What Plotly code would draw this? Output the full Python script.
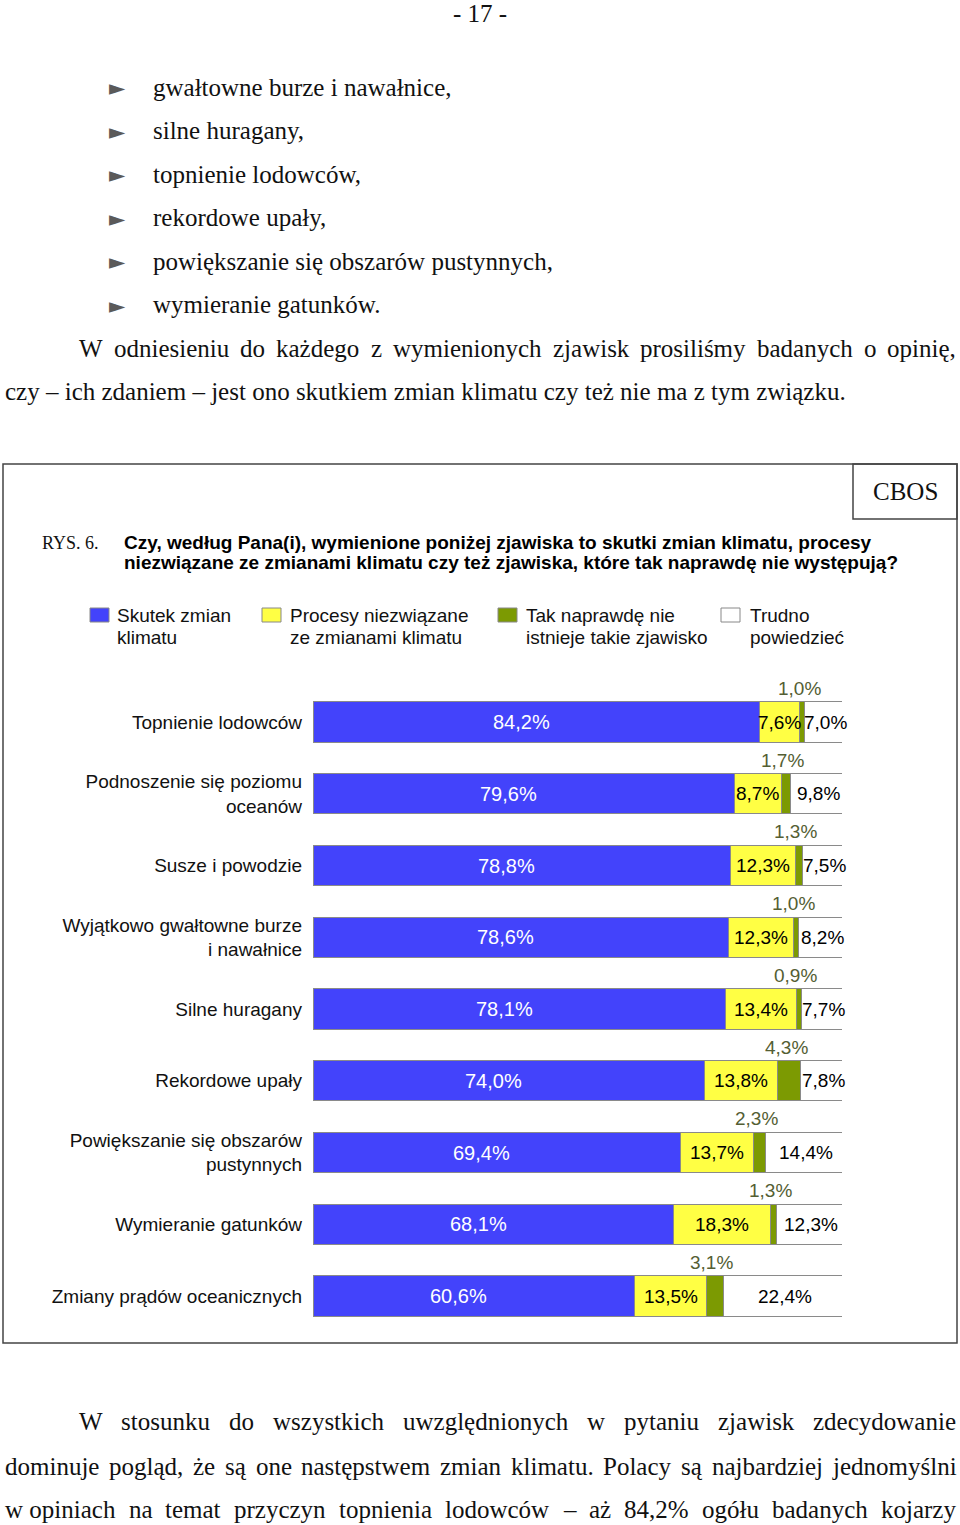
import plotly.graph_objects as go

# ---------------- data ----------------
categories = [
    "Topnienie lodowców",
    "Podnoszenie się poziomu<br>oceanów",
    "Susze i powodzie",
    "Wyjątkowo gwałtowne burze<br>i nawałnice",
    "Silne huragany",
    "Rekordowe upały",
    "Powiększanie się obszarów<br>pustynnych",
    "Wymieranie gatunków",
    "Zmiany prądów oceanicznych",
]
skutek = [84.2, 79.6, 78.8, 78.6, 78.1, 74.0, 69.4, 68.1, 60.6]
procesy = [7.6, 8.7, 12.3, 12.3, 13.4, 13.8, 13.7, 18.3, 13.5]
nie_istnieje = [1.0, 1.7, 1.3, 1.0, 0.9, 4.3, 2.3, 1.3, 3.1]
trudno = [7.0, 9.8, 7.5, 8.2, 7.7, 7.8, 14.4, 12.3, 22.4]

series_names = [
    "Skutek zmian klimatu",
    "Procesy niezwiązane ze zmianami klimatu",
    "Tak naprawdę nie istnieje takie zjawisko",
    "Trudno powiedzieć",
]
legend_lines = [
    ["Skutek zmian", "klimatu"],
    ["Procesy niezwiązane", "ze zmianami klimatu"],
    ["Tak naprawdę nie", "istnieje takie zjawisko"],
    ["Trudno", "powiedzieć"],
]
series_values = [skutek, procesy, nie_istnieje, trudno]
colors = ["#4343FB", "#FFFF44", "#7C9A02", "#FFFFFF"]

bullets = [
    "gwałtowne burze i nawałnice,",
    "silne huragany,",
    "topnienie lodowców,",
    "rekordowe upały,",
    "powiększanie się obszarów pustynnych,",
    "wymieranie gatunków.",
]
para_top = [
    "W odniesieniu do każdego z wymienionych zjawisk prosiliśmy badanych o opinię,",
    "czy – ich zdaniem – jest ono skutkiem zmian klimatu czy też nie ma z tym związku.",
]
para_bottom = [
    "W stosunku do wszystkich uwzględnionych w pytaniu zjawisk zdecydowanie",
    "dominuje pogląd, że są one następstwem zmian klimatu. Polacy są najbardziej jednomyślni",
    "w\u00a0opiniach na temat przyczyn topnienia lodowców – aż 84,2% ogółu badanych kojarzy",
]
question = [
    "Czy, według Pana(i), wymienione poniżej zjawiska to skutki zmian klimatu, procesy",
    "niezwiązane ze zmianami klimatu czy też zjawiska, które tak naprawdę nie występują?",
]

# ---------------- page geometry ----------------
W, H = 960, 1525
def X(px):
    return px / W
def Y(py):
    return 1 - py / H

SERIF = "Liberation Serif, Times New Roman, serif"
SANS = "Liberation Sans, Arial, sans-serif"

# Times metrics for justification
TW = dict(zip("abcdefghijklmnopqrstuvwxyz",
              [444, 500, 444, 500, 444, 333, 500, 500, 278, 278, 500, 278, 778,
               500, 500, 500, 500, 333, 389, 278, 500, 500, 722, 500, 500, 444]))
TW.update(dict(zip("ABCDEFGHIJKLMNOPQRSTUVWXYZ",
                   [722, 667, 667, 722, 611, 556, 722, 722, 333, 389, 722, 611, 889,
                    722, 722, 556, 722, 667, 556, 611, 722, 722, 944, 722, 722, 611])))
TW.update({" ": 250, "\u00a0": 250, ",": 250, ".": 250, "%": 833, "–": 500, "-": 333})
for d in "0123456789":
    TW[d] = 500
for a, b in zip("ąćęłńóśźż", "acelnoszz"):
    TW[a] = TW[b]

def text_w(s, size):
    return sum(TW.get(c, 500) for c in s) / 1000 * size

def justify(line, left, right, size):
    words = line.split(" ")
    widths = [text_w(w, size) for w in words]
    gap = (right - left - sum(widths)) / (len(words) - 1)
    out, x = [], left
    for w, wd in zip(words, widths):
        out.append((w, x))
        x += wd + gap
    return out

BODY = 25
annotations = []
shapes = []

def txt(text, x, y, size, family=SERIF, color="#111", xanchor="left", **kw):
    annotations.append(dict(
        text=text, x=X(x), y=Y(y), xref="paper", yref="paper",
        xanchor=xanchor, yanchor="middle", showarrow=False, borderpad=0,
        font=dict(size=size, family=family, color=color), **kw))

# page number
txt("- 17 -", 480, 13, BODY, xanchor="center")
# bullets
for i, b in enumerate(bullets):
    yy = 87 + i * 43.6
    txt("►", 117, yy + 1, 21, family="DejaVu Sans", color="#5a5a5a", xanchor="center")
    txt(b, 152, yy, BODY)
# top paragraph
for w, x in justify(para_top[0], 78, 955, BODY):
    txt(w, x, 348, BODY)
txt(para_top[1], 4, 392, BODY)
# bottom paragraph
for w, x in justify(para_bottom[0], 78, 955, BODY):
    txt(w, x, 1421, BODY)
for w, x in justify(para_bottom[1], 4, 955, BODY):
    txt(w, x, 1466, BODY)
for w, x in justify(para_bottom[2], 4, 955, BODY):
    txt(w, x, 1509, BODY)

# chart frame
shapes.append(dict(type="rect", xref="paper", yref="paper",
                   x0=X(3), x1=X(957), y0=Y(1343), y1=Y(464),
                   line=dict(color="#444", width=1.5)))
shapes.append(dict(type="rect", xref="paper", yref="paper",
                   x0=X(853), x1=X(957), y0=Y(519), y1=Y(464),
                   line=dict(color="#444", width=1.5)))
txt("CBOS", 905, 492, BODY, xanchor="center")
txt("RYS. 6.", 41, 543, 18)
txt("<b>" + question[0] + "</b>", 123, 542, 19, family=SANS, color="#000")
txt("<b>" + question[1] + "</b>", 123, 562, 19, family=SANS, color="#000")

# legend (manual)
leg_sq_x = [90, 262, 498, 721]
leg_tx_x = [116, 289, 525, 749]
for k in range(4):
    shapes.append(dict(type="rect", xref="paper", yref="paper",
                       x0=X(leg_sq_x[k]), x1=X(leg_sq_x[k] + 19),
                       y0=Y(622), y1=Y(608),
                       fillcolor=colors[k], line=dict(color="#888", width=1)))
    txt(legend_lines[k][0], leg_tx_x[k], 615, 19, family=SANS, color="#111")
    txt(legend_lines[k][1], leg_tx_x[k], 637, 19, family=SANS, color="#111")

# ---------------- bars ----------------
n = len(categories)
ypos = list(range(n))
fig = go.Figure()
for k in range(4):
    fig.add_trace(go.Bar(
        y=ypos, x=series_values[k], orientation="h", name=series_names[k],
        marker=dict(color=colors[k], line=dict(color="#8a8a8a", width=1)),
        width=0.56, hoverinfo="x+name", showlegend=False,
    ))

def fmt(v):
    return f"{v:.1f}".replace(".", ",") + "%"

for i in range(n):
    vals = [s[i] for s in series_values]
    tot = sum(vals)
    norm = [v / tot * 100 for v in vals]
    left = 0
    for k in range(4):
        mid = left + norm[k] / 2
        left += norm[k]
        if k == 0:
            annotations.append(dict(x=mid, y=i, xref="x", yref="y", text=fmt(vals[k]),
                                    showarrow=False, xshift=-15,
                                    font=dict(size=20, family=SANS, color="white")))
        elif k == 2:
            annotations.append(dict(x=mid, y=i - 0.47, xref="x", yref="y", text=fmt(vals[k]),
                                    showarrow=False, xshift=-3,
                                    font=dict(size=19, family=SANS, color="#545e33")))
        else:
            annotations.append(dict(x=mid, y=i, xref="x", yref="y", text=fmt(vals[k]),
                                    showarrow=False, xshift=2 if k == 3 else 0,
                                    font=dict(size=19, family=SANS, color="#000")))

row_h = 71.75
top_px = 722 - row_h / 2
bot_px = top_px + row_h * n
fig.update_layout(
    width=W, height=H,
    margin=dict(l=0, r=0, t=0, b=0),
    paper_bgcolor="white", plot_bgcolor="rgba(0,0,0,0)",
    barmode="stack", barnorm="percent",
    showlegend=False,
    xaxis=dict(domain=[X(313), X(842)], range=[0, 100], visible=False, fixedrange=True),
    yaxis=dict(domain=[Y(bot_px), Y(top_px)], range=[n - 0.5, -0.5],
               tickvals=ypos, ticktext=categories, showgrid=False, zeroline=False,
               showline=False, ticks="", ticklabelstandoff=10,
               tickfont=dict(size=19, family=SANS, color="#111"), fixedrange=True),
    annotations=annotations, shapes=shapes,
)
fig.write_html(
    "out.html",
    config={"displayModeBar": False},
    post_script="document.body.style.margin='0';document.body.style.overflow='hidden';",
)
